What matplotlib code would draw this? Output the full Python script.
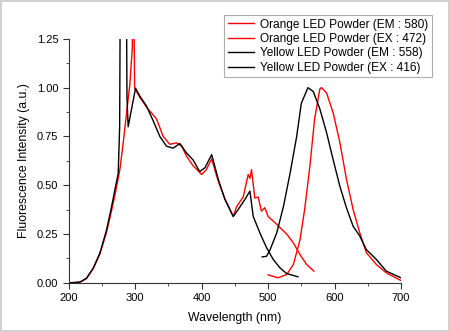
import numpy as np
import matplotlib.pyplot as plt
from matplotlib.ticker import MultipleLocator

plt.rcParams['font.family'] = ['Liberation Sans', 'DejaVu Sans']

# Orange LED powder, excitation (EX : 472)
or_ex_wl = [200, 216.6, 226.6, 236.6, 246.7, 256.7, 264.3, 270, 276.8, 281.8, 286.9, 291.9,
            295.5, 296.5, 297.5, 299,
            307, 317, 332, 342, 352, 362, 370, 377, 387, 400, 407, 415, 425, 435, 447.5, 452.5,
            462.5, 470, 472.6, 475, 480, 485, 490, 495, 500, 513, 528, 538, 548, 558, 569]
or_ex_val = [0.0, 0.003, 0.022, 0.072, 0.148, 0.26, 0.37, 0.46, 0.58, 0.716, 0.87, 1.02,
             1.2, 1.6, 1.6, 0.997,
             0.95, 0.90, 0.84, 0.75, 0.71, 0.717, 0.70, 0.65, 0.60, 0.555, 0.58, 0.635, 0.52, 0.43,
             0.34, 0.39, 0.44, 0.555, 0.535, 0.58, 0.435, 0.44, 0.367, 0.385, 0.34, 0.30, 0.25,
             0.205, 0.145, 0.094, 0.06]

# Orange LED powder, emission (EM : 580)
or_em_wl = [500, 515, 528, 538, 548, 555, 563, 570, 578, 580.5, 588, 598, 608, 618, 628, 638,
            648, 663, 678, 700]
or_em_val = [0.041, 0.026, 0.043, 0.094, 0.22, 0.376, 0.60, 0.84, 0.994, 1.0, 0.973, 0.87, 0.72,
             0.53, 0.376, 0.256, 0.154, 0.094, 0.051, 0.012]

# Yellow LED powder, excitation (EX : 416)
ye_ex_wl = [200, 216.6, 226.6, 236.6, 246.7, 256.7, 264.3, 269.3, 274.3, 276.5, 277.5, 286.5,
            287.5, 289.3, 300.4, 307, 317, 327, 337, 347, 357, 367, 377, 387, 397, 405, 415, 425,
            435, 447.5, 455, 465, 472.6, 477.6, 487.6, 497.7, 507.7, 517.8, 527.8, 537.9, 545]
ye_ex_val = [0.0, 0.004, 0.024, 0.075, 0.152, 0.27, 0.39, 0.476, 0.56, 0.8, 1.6, 1.6,
             0.95, 0.80, 0.997, 0.956, 0.905, 0.83, 0.75, 0.70, 0.69, 0.714, 0.666, 0.63, 0.57,
             0.59, 0.657, 0.53, 0.427, 0.34, 0.376, 0.427, 0.47, 0.34, 0.256, 0.18, 0.12, 0.077,
             0.048, 0.038, 0.031]

# Yellow LED powder, emission (EM : 558)
ye_em_wl = [491, 497.7, 503, 513, 523, 533, 543, 550, 560, 568, 578, 588, 598, 608, 618, 628,
            638, 648, 663, 678, 700]
ye_em_val = [0.133, 0.136, 0.17, 0.256, 0.39, 0.56, 0.75, 0.92, 1.0, 0.98, 0.89, 0.77, 0.63,
             0.495, 0.384, 0.29, 0.24, 0.17, 0.12, 0.06, 0.026]

fig = plt.figure(figsize=(4.5, 3.32), dpi=100)
ax = fig.add_axes([0.153, 0.148, 0.738, 0.735])

ax.plot(or_em_wl, or_em_val, color='#ff0000', lw=1, label='Orange LED Powder (EM : 580)')
ax.plot(or_ex_wl, or_ex_val, color='#ff0000', lw=1, label='Orange LED Powder (EX : 472)')
ax.plot(ye_em_wl, ye_em_val, color='black', lw=1, label='Yellow LED Powder (EM : 558)')
ax.plot(ye_ex_wl, ye_ex_val, color='black', lw=1, label='Yellow LED Powder (EX : 416)')

ax.set_xlim(200, 700)
ax.set_ylim(0, 1.25)
ax.xaxis.set_major_locator(MultipleLocator(100))
ax.xaxis.set_minor_locator(MultipleLocator(50))
ax.yaxis.set_major_locator(MultipleLocator(0.25))
ax.yaxis.set_minor_locator(MultipleLocator(0.125))
ax.yaxis.set_major_formatter(plt.FormatStrFormatter('%.2f'))
for s in ['top', 'right']:
    ax.spines[s].set_visible(False)
for s in ['left', 'bottom']:
    ax.spines[s].set_color('#333333')
ax.tick_params(which='both', direction='out', labelsize=8, color='#333333')
ax.tick_params(which='major', length=4)
ax.tick_params(which='minor', length=2.5)
ax.set_xlabel('Wavelength (nm)', fontsize=8.8, labelpad=6)
ax.set_ylabel('Fluorescence Intensity (a.u.)', fontsize=8.8, labelpad=5)

leg = fig.legend(loc='upper right', bbox_to_anchor=(0.96, 0.955), fontsize=8.6,
                 frameon=True, fancybox=False, handlelength=2.2, handletextpad=0.5,
                 borderpad=0.3, labelspacing=0.2, borderaxespad=0)
leg.get_frame().set_edgecolor('#999999')
leg.get_frame().set_linewidth(0.8)

fig.patches.append(plt.Rectangle((0.002, 0.003), 0.995, 0.994, transform=fig.transFigure,
                                 fill=False, edgecolor='#c8c8c8', lw=1.2))

fig.savefig('out.png', dpi=100)
